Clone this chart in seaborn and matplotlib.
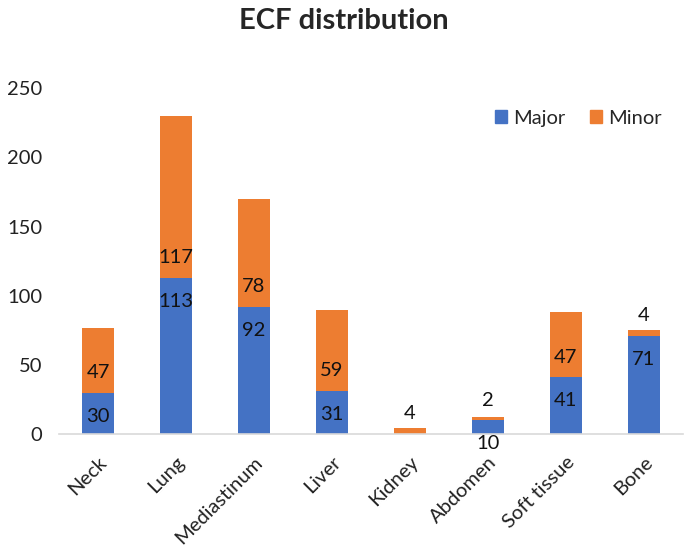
import matplotlib
matplotlib.use("Agg")
import matplotlib.pyplot as plt
import seaborn as sns
import pandas as pd
from matplotlib.patches import Patch

# values
sites = ['Neck', 'Lung', 'Mediastinum', 'Liver', 'Kidney', 'Abdomen', 'Soft tissue', 'Bone']
major = [30, 113, 92, 31, 0, 10, 41, 71]
minor = [47, 117, 78, 59, 4, 2, 47, 4]

blue = '#4472C4'
orange = '#ED7D31'

sns.set_theme(style='white')
plt.rcParams['font.family'] = ['Lato', 'DejaVu Sans']

df = pd.DataFrame({'site': sites, 'Major': major, 'Minor': minor})
df['total'] = df['Major'] + df['Minor']

fig = plt.figure(figsize=(6.87, 5.48), dpi=100)
ax = fig.add_axes([0.086, 0.208, 0.908, 0.631])

# stacked: draw total in orange, then major in blue on top
sns.barplot(data=df, x='site', y='total', color=orange, width=0.41,
            saturation=1, linewidth=0, ax=ax, order=sites)
sns.barplot(data=df, x='site', y='Major', color=blue, width=0.41,
            saturation=1, linewidth=0, ax=ax, order=sites)

ax.set_ylim(0, 250)
ax.set_yticks(range(0, 251, 50))
ax.set_xlim(-0.5, len(sites) - 0.5)
ax.set_xlabel('')
ax.set_ylabel('')

for s in ['top', 'right', 'left']:
    ax.spines[s].set_visible(False)
ax.spines['bottom'].set_color('#D9D9D9')
ax.spines['bottom'].set_linewidth(1.2)
ax.tick_params(axis='both', length=0, labelsize=14.5, colors='#222222')
ax.tick_params(axis='y', pad=12)
ax.tick_params(axis='x', pad=14)
plt.setp(ax.get_xticklabels(), rotation=45, ha='right', rotation_mode='anchor')

# data labels, placed like the original Excel chart
for i, (mj, mn) in enumerate(zip(major, minor)):
    if mj > 0:
        ax.annotate(str(mj), (i, mj), xytext=(0, -17), textcoords='offset points',
                    ha='center', va='center', fontsize=14.5, color='#111111')
    ax.annotate(str(mn), (i, mj), xytext=(0, 14.5), textcoords='offset points',
                ha='center', va='center', fontsize=14.5, color='#111111')

handles = [Patch(color=blue, label='Major'), Patch(color=orange, label='Minor')]
ax.legend(handles=handles, loc='upper right', bbox_to_anchor=(0.995, 0.99), ncol=2,
          frameon=False, fontsize=14.5, handlelength=0.6, handleheight=0.6,
          handletextpad=0.3, columnspacing=1.2)

fig.suptitle('ECF distribution', fontsize=21, fontweight='bold', y=0.985)

fig.savefig('out.png', dpi=100)
